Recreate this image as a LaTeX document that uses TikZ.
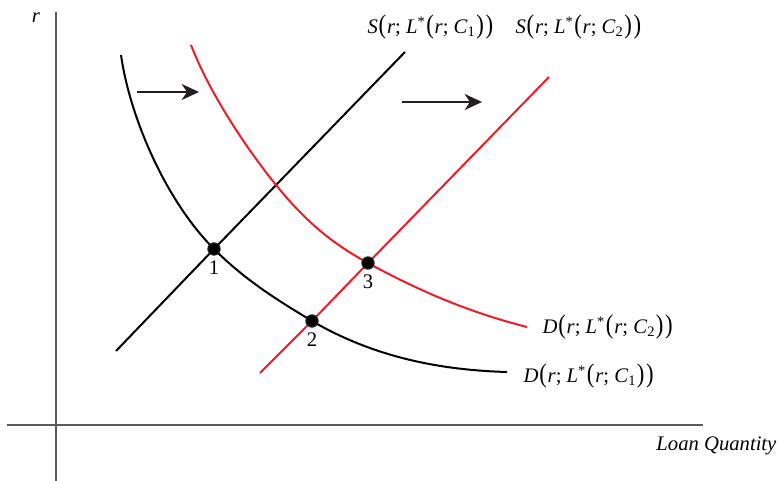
\documentclass[tikz,border=0pt]{standalone}
\usepackage{fontspec}
\setmainfont{Liberation Serif}
\usepackage{graphicx}
\usepackage{tikz}
\usetikzlibrary{arrows.meta,positioning,calc}
\definecolor{curvered}{HTML}{EE1C24}
\definecolor{axisgray}{HTML}{5A5A5A}
\definecolor{arrowdark}{HTML}{231F20}
\newcommand{\tp}[1]{\kern0.6pt\scalebox{1.1}[1.3]{#1}\kern0.6pt}
\newcommand{\fnlabel}[2]{\textit{#1}\tp{(}\textit{r}; \textit{L}\textsuperscript{*}\tp{(}\textit{r}; \textit{C}\textsubscript{#2}\tp{)}\tp{)}}

\begin{document}
\begin{tikzpicture}[x=0.75pt,y=-0.75pt,
			axis/.style={draw=axisgray,line width=1.5pt},
			supply/.style={line width=1.5pt},
			demand/.style={line width=1.5pt},
			dot/.style={circle,fill=black,draw=arrowdark,line width=0.8pt,inner sep=0pt,minimum size=9pt},
			num/.style={font=\fontsize{15.5}{18}\selectfont,inner sep=1pt},
			lab/.style={font=\fontsize{15.5}{18}\selectfont,inner sep=1pt},
			shiftarr/.style={-{Stealth[length=13pt,width=12pt,inset=4pt]},line width=1.2pt,arrowdark}
			]
			\useasboundingbox (0,0) rectangle (781,481);
			\coordinate (yb) at (56,481);
			\coordinate (yt) at (56,12);
			\coordinate (xl) at (7,425);
			\coordinate (xr) at (703,425);
			\draw[axis] (yb) -- (yt);
			\draw[axis] (xl) -- (xr);
			\node[lab,font=\fontsize{15.5}{18}\selectfont\itshape] (rlab) at (36,18) {r};
			\node[lab,font=\fontsize{15.5}{18}\selectfont\itshape,anchor=east] (qlab) at (778,446) {Loan Quantity};
			\node[dot] (p1) at (214,249) {};
			\node[dot] (p2) at (312,321) {};
			\node[dot] (p3) at (368,263) {};
			\coordinate (s1a) at (116,351);
			\coordinate (s1b) at (405,52);
			\coordinate (s2a) at (260,373);
			\coordinate (s2b) at (549,77);
			\coordinate (d1a) at (121,55);
			\coordinate (d1b) at (507,372);
			\coordinate (d2a) at (191,45);
			\coordinate (d2m) at (276,185);
			\coordinate (d2b) at (527,327);
			\draw[supply] (s1a) -- (p1.center) -- (s1b);
			\draw[supply,curvered] (s2a) -- (p2.center) -- (p3.center) -- (s2b);
			\draw[demand] (d1a) .. controls (130,118) and (166,201) .. (p1.center)
				.. controls (246,281) and (279,301) .. (p2.center)
				.. controls (372,356) and (437,370) .. (d1b);
			\draw[demand,curvered] (d2a) .. controls (209,92) and (246,148) .. (d2m)
				.. controls (306,222) and (333,244) .. (p3.center)
				.. controls (423,293) and (472,313) .. (d2b);
			\node[dot] at (p1) {};
			\node[dot] at (p2) {};
			\node[dot] at (p3) {};
			\node[num,below=3pt of p1] (n1) {1};
			\node[num,below=3pt of p2] (n2) {2};
			\node[num,below=3pt of p3] (n3) {3};
			\coordinate (a1s) at (137,92);
			\coordinate (a1e) at (199,92);
			\coordinate (a2s) at (402,102);
			\coordinate (a2e) at (482,102);
			\draw[shiftarr] (a1s) -- (a1e);
			\draw[shiftarr] (a2s) -- (a2e);
			\node[lab,anchor=west] (sc1) at (366,27) {\fnlabel{S}{1}};
			\node[lab,anchor=west] (sc2) at (514,27) {\fnlabel{S}{2}};
			\node[lab,anchor=west] (dc2) at (541,327) {\fnlabel{D}{2}};
			\node[lab,anchor=west] (dc1) at (522,376) {\fnlabel{D}{1}};
		\end{tikzpicture}
\end{document}
